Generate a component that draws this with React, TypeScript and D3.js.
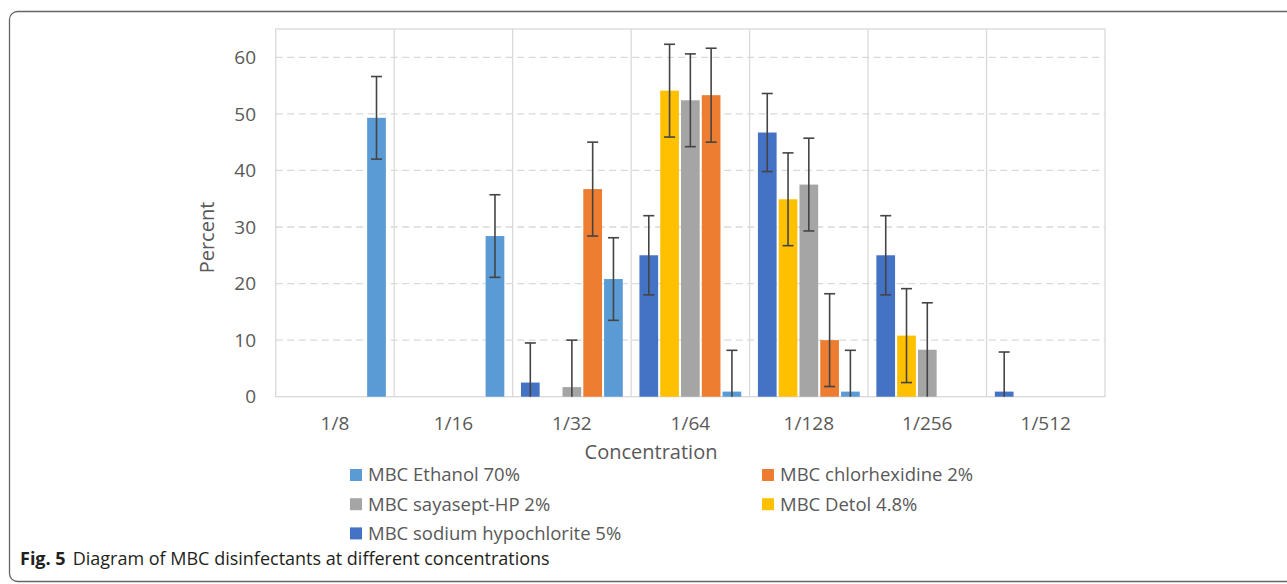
import * as d3 from 'd3'

// concentrations on the x axis
const categories = ['1/8', '1/16', '1/32', '1/64', '1/128', '1/256', '1/512']

// series in drawing order inside each group (null = no bar)
const sodium = [null, null, 2.5, 25.0, 46.7, 25.0, 0.9]
const detol = [null, null, null, 54.1, 34.9, 10.8, null]
const sayasept = [null, null, 1.7, 52.4, 37.5, 8.3, null]
const chlorhex = [null, null, 36.7, 53.3, 10.0, null, null]
const ethanol = [49.3, 28.4, 20.8, 0.9, 0.9, null, null]

// error bar half-lengths
const sodiumErr = [null, null, 7.0, 7.0, 6.9, 7.0, 7.0]
const detolErr = [null, null, null, 8.2, 8.2, 8.3, null]
const sayaseptErr = [null, null, 8.3, 8.2, 8.2, 8.3, null]
const chlorhexErr = [null, null, 8.3, 8.3, 8.2, null, null]
const ethanolErr = [7.3, 7.3, 7.3, 7.3, 7.3, null, null]

const yTicks = [0, 10, 20, 30, 40, 50, 60]

const series = [
  { key: 'sodium', name: 'MBC sodium hypochlorite 5%', color: '#4472C4', values: sodium, errors: sodiumErr },
  { key: 'detol', name: 'MBC Detol 4.8%', color: '#FFC000', values: detol, errors: detolErr },
  { key: 'sayasept', name: 'MBC sayasept-HP 2%', color: '#A5A5A5', values: sayasept, errors: sayaseptErr },
  { key: 'chlorhex', name: 'MBC chlorhexidine 2%', color: '#ED7D31', values: chlorhex, errors: chlorhexErr },
  { key: 'ethanol', name: 'MBC Ethanol 70%', color: '#5B9BD5', values: ethanol, errors: ethanolErr },
]

// legend reads row by row, two columns
const legendOrder = ['ethanol', 'chlorhex', 'sayasept', 'detol', 'sodium']

const W = 1287
const H = 584
const plot = { left: 275.7, right: 1105, top: 29, bottom: 396.7 }
const textColor = '#595959'
const gridColor = '#D9D9D9'
const font = "'Open Sans', sans-serif"

export default function App() {
  const x0 = d3.scaleBand<string>()
    .domain(categories)
    .range([plot.left, plot.right])
    .padding(0)

  const x1 = d3.scaleBand<string>()
    .domain(series.map(s => s.key))
    .range([0, x0.bandwidth()])
    .paddingInner(0.1)
    .paddingOuter(0.4)

  const y = d3.scaleLinear().domain([0, 65]).range([plot.bottom, plot.top])

  const capHalf = 5.5

  return (
    <div style={{ position: 'absolute', left: 0, top: 0 }}>
      <svg width={W} height={H} style={{ display: 'block', background: '#fff' }}>
        {/* figure frame */}
        <rect x={9.5} y={11.5} width={1400} height={570} rx={8} fill="none" stroke="#666" strokeWidth={1.3} />

        {/* dashed gridlines */}
        {yTicks.filter(t => t > 0).map(t => (
          <line key={t} x1={plot.left} x2={plot.right} y1={y(t)} y2={y(t)}
            stroke={gridColor} strokeWidth={1.3} strokeDasharray="7,4.5" />
        ))}

        {/* plot border and category separators */}
        <rect x={plot.left} y={plot.top} width={plot.right - plot.left} height={plot.bottom - plot.top}
          fill="none" stroke={gridColor} strokeWidth={1.3} />
        {categories.slice(1).map(c => (
          <line key={c} x1={x0(c)} x2={x0(c)} y1={plot.top} y2={plot.bottom} stroke={gridColor} strokeWidth={1.3} />
        ))}

        {/* bars */}
        {series.map(s => (
          <g key={s.key}>
            {categories.map((c, i) => {
              const v = s.values[i]
              if (v === null) return null
              const bx = (x0(c) ?? 0) + (x1(s.key) ?? 0)
              return <rect key={c} x={bx} y={y(v)} width={x1.bandwidth()} height={y(0) - y(v)} fill={s.color} />
            })}
          </g>
        ))}

        {/* error bars */}
        {series.map(s => (
          <g key={s.key + '-err'} stroke="#444" strokeWidth={1.6}>
            {categories.map((c, i) => {
              const v = s.values[i]
              const e = s.errors[i]
              if (v === null || e === null) return null
              const cx = (x0(c) ?? 0) + (x1(s.key) ?? 0) + x1.bandwidth() / 2
              const hi = y(v + e)
              const lo = y(Math.max(0, v - e))
              return (
                <g key={c}>
                  <line x1={cx} x2={cx} y1={hi} y2={lo} />
                  <line x1={cx - capHalf} x2={cx + capHalf} y1={hi} y2={hi} />
                  {v - e > 0 && <line x1={cx - capHalf} x2={cx + capHalf} y1={lo} y2={lo} />}
                </g>
              )
            })}
          </g>
        ))}

        {/* y tick labels */}
        {yTicks.map(t => (
          <text key={t} x={256} y={y(t)} dy="0.35em" textAnchor="end"
            fontFamily={font} fontSize={19} fill={textColor}>{t}</text>
        ))}

        {/* x tick labels */}
        {categories.map(c => (
          <text key={c} x={(x0(c) ?? 0) + x0.bandwidth() / 2} y={430} textAnchor="middle"
            fontFamily={font} fontSize={19} fill={textColor}>{c}</text>
        ))}

        {/* axis titles */}
        <text transform={`translate(214, 237.5) rotate(-90)`} textAnchor="middle"
          fontFamily={font} fontSize={20} fill={textColor}>Percent</text>
        <text x={651} y={459} textAnchor="middle" fontFamily={font} fontSize={20} fill={textColor}>Concentration</text>

        {/* legend */}
        {legendOrder.map((k, i) => {
          const s = series.find(d => d.key === k)!
          const col = i % 2
          const row = Math.floor(i / 2)
          const lx = col === 0 ? 350 : 762
          const ly = 475 + row * 29.2
          return (
            <g key={k}>
              <rect x={lx} y={ly - 6} width={12} height={12} fill={s.color} />
              <text x={lx + 18} y={ly} dy="0.35em" fontFamily={font} fontSize={18.5} fill={textColor}>{s.name}</text>
            </g>
          )
        })}

        {/* caption */}
        <text x={20} y={565} fontFamily={font} fontSize={18} fill="#231F20">
          <tspan fontWeight="bold">Fig. 5</tspan>
          <tspan dx={7}>Diagram of MBC disinfectants at different concentrations</tspan>
        </text>
      </svg>
    </div>
  )
}
